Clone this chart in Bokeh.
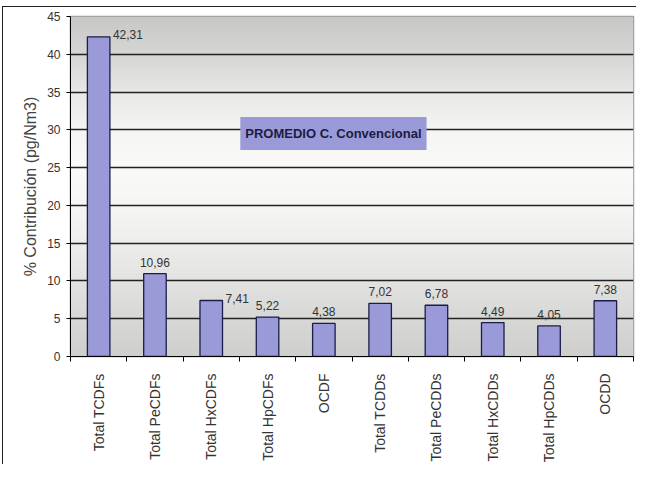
import math
import numpy as np
from bokeh.plotting import figure
from bokeh.layouts import column, row
from bokeh.models import FixedTicker, Label, Range1d, ColumnDataSource, Spacer
from bokeh.core.properties import value
from bokeh.embed import file_html
from bokeh.resources import INLINE

# ---- data ----
categories = ["Total TCDFs", "Total PeCDFs", "Total HxCDFs", "Total HpCDFs", "OCDF",
              "Total TCDDs", "Total PeCDDs", "Total HxCDDs", "Total HpCDDs", "OCDD"]
values = [42.31, 10.96, 7.41, 5.22, 4.38, 7.02, 6.78, 4.49, 4.05, 7.38]
value_labels = ["42,31", "10,96", "7,41", "5,22", "4,38", "7,02", "6,78", "4,49", "4,05", "7,38"]
side_label_idx = [0, 2]          # labels drawn to the right of the bar top
y_ticks = list(range(0, 50, 5))
y_label = "% Contribución (pg/Nm3)"
box_title = "PROMEDIO C. Convencional"

FONT = "Liberation Sans"
BAR_FILL = "#9a9ad8"
BAR_LINE = "#1c1c4a"

n = len(categories)
xc = [i + 0.5 for i in range(n)]

p = figure(width=634, height=458, x_range=Range1d(0, n), y_range=Range1d(0, 45),
           output_backend="svg", toolbar_location=None,
           min_border_left=67, min_border_top=9, min_border_right=4, min_border_bottom=107,
           styles={"border-top": "1px solid #222", "border-left": "1px solid #222"})

# background gradient (style only)
stops_y = [0, 5, 10, 15, 20, 25, 30, 35, 40, 45]
stops_c = [0xcf, 0xd8, 0xe3, 0xee, 0xf6, 0xfa, 0xf5, 0xe8, 0xd6, 0xc8]
ys = np.linspace(0, 45, 200)
g = np.interp(ys, stops_y, stops_c).astype(np.uint32)
img = np.empty((200, 2), dtype=np.uint32)
view = img.view(dtype=np.uint8).reshape((200, 2, 4))
for k in range(200):
    view[k, :, 0] = g[k]
    view[k, :, 1] = g[k]
    view[k, :, 2] = max(int(g[k]) - 2, 0)
    view[k, :, 3] = 255
bg = p.image_rgba(image=[img], x=0, y=0, dw=n, dh=45)
bg.level = "image"

p.background_fill_color = "#f0f0f0"
p.outline_line_color = "#999999"
p.outline_line_width = 1.5

src = ColumnDataSource(dict(x=xc, top=values, lab=value_labels))
p.vbar(x="x", top="top", width=0.4, source=src, fill_color=BAR_FILL,
       line_color=BAR_LINE, line_width=1.3)

# value labels
mid_idx = [i for i in range(n) if i not in side_label_idx]
p.text(x=[xc[i] for i in mid_idx], y=[values[i] for i in mid_idx],
       text=[value_labels[i] for i in mid_idx], text_align="center", text_baseline="bottom",
       y_offset=-7, text_font=value(FONT), text_font_size="12px", text_color="#333333")
p.text(x=[xc[i] + 0.2 for i in side_label_idx], y=[values[i] for i in side_label_idx],
       text=[value_labels[i] for i in side_label_idx], text_align="left", text_baseline="middle",
       x_offset=3, y_offset=-2, text_font=value(FONT), text_font_size="12px", text_color="#333333")

# grid (no line at the top edge)
p.xgrid.visible = False
p.ygrid.ticker = FixedTicker(ticks=y_ticks[1:-1])
p.ygrid.grid_line_color = "#222222"
p.ygrid.grid_line_width = 1.5

# y axis
ya = p.yaxis[0]
ya.ticker = FixedTicker(ticks=y_ticks)
ya.axis_line_color = "#000000"
ya.major_tick_out = 4
ya.major_tick_in = 0
ya.minor_tick_out = 0
ya.minor_tick_in = 0
ya.major_label_standoff = 6
ya.major_label_text_font = FONT
ya.major_label_text_font_size = "12px"
ya.major_label_text_color = "#333333"
ya.axis_label = y_label
ya.axis_label_text_font = FONT
ya.axis_label_text_font_size = "16px"
ya.axis_label_text_font_style = "normal"
ya.axis_label_text_color = "#444444"
ya.axis_label_standoff = 5

# x axis
xa = p.xaxis[0]
xa.ticker = FixedTicker(ticks=xc, minor_ticks=list(range(n + 1)))
xa.major_label_overrides = {xc[i]: categories[i] for i in range(n)}
xa.major_label_orientation = math.pi / 2
xa.axis_line_color = "#000000"
xa.major_tick_out = 0
xa.major_tick_in = 0
xa.minor_tick_out = 5
xa.minor_tick_in = 0
xa.minor_tick_line_color = "#000000"
xa.major_label_standoff = 12
xa.major_label_text_font = FONT
xa.major_label_text_font_size = "14px"
xa.major_label_text_color = "#333333"

# title box
lbl = Label(x=4.67, y=29.5, text=box_title, text_align="center", text_baseline="middle",
            text_font=FONT, text_font_size="13px", text_font_style="bold",
            text_color="#1c1c40", background_fill_color=BAR_FILL,
            padding=dict(left=5, right=5, top=9, bottom=9))
p.add_layout(lbl)

layout = column(Spacer(height=6), row(Spacer(width=2), p))
open("out.html", "w").write(file_html(layout, INLINE))
